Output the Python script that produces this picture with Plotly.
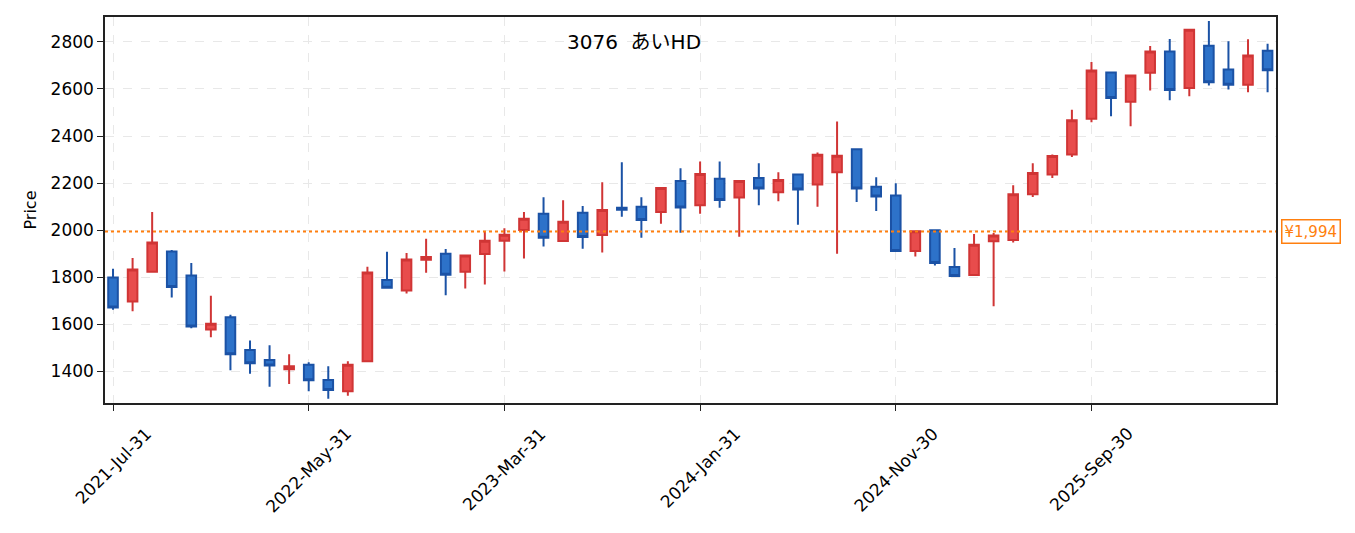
import pandas as pd
import plotly.graph_objects as go

# monthly candles for 3076
open_ = [1799, 1696, 1823, 1909, 1807, 1578, 1630, 1490, 1448, 1409,
         1428, 1363, 1315, 1442, 1788, 1743, 1874, 1900, 1823, 1898,
         1955, 2001, 2070, 1954, 2074, 1979, 2095, 2099, 2077, 2209,
         2106, 2218, 2139, 2222, 2161, 2236, 2194, 2246, 2344, 2184,
         2147, 1911, 1999, 1843, 1809, 1953, 1958, 2152, 2236, 2321,
         2473, 2670, 2546, 2669, 2759, 2604, 2784, 2683, 2618, 2763]
high = [1836, 1881, 2077, 1915, 1860, 1721, 1640, 1531, 1510, 1472,
        1438, 1421, 1442, 1844, 1908, 1903, 1963, 1920, 1893, 1992,
        2008, 2077, 2140, 2127, 2102, 2204, 2288, 2140, 2180, 2263,
        2292, 2292, 2210, 2284, 2246, 2238, 2330, 2462, 2346, 2225,
        2199, 1997, 2000, 1924, 1984, 1988, 2191, 2284, 2321, 2512,
        2715, 2672, 2659, 2783, 2813, 2853, 2889, 2803, 2811, 2792]
low = [1661, 1655, 1820, 1714, 1583, 1545, 1404, 1389, 1334, 1346,
       1315, 1283, 1296, 1440, 1752, 1731, 1819, 1723, 1752, 1769,
       1824, 1879, 1930, 1950, 1921, 1905, 2057, 1968, 2027, 1989,
       2070, 2095, 1972, 2106, 2123, 2023, 2099, 1900, 2120, 2081,
       1908, 1888, 1850, 1803, 1806, 1676, 1947, 2141, 2222, 2311,
       2459, 2484, 2442, 2594, 2552, 2569, 2615, 2598, 2586, 2586]
close = [1671, 1833, 1947, 1758, 1590, 1602, 1472, 1434, 1424, 1421,
         1362, 1320, 1428, 1820, 1755, 1875, 1886, 1810, 1892, 1955,
         1980, 2048, 1967, 2036, 1971, 2086, 2087, 2043, 2179, 2096,
         2239, 2128, 2209, 2177, 2213, 2173, 2320, 2316, 2177, 2143,
         1911, 1995, 1860, 1805, 1938, 1977, 2152, 2243, 2315, 2467,
         2679, 2562, 2657, 2759, 2596, 2852, 2629, 2618, 2742, 2680]

# month-end labels
dates = (pd.date_range(start='2021-07-01', periods=len(close), freq='MS') + pd.offsets.MonthEnd(0)).strftime('%Y-%b-%d').tolist()
tick_labels = dates[::10]

ref_price = 1994
title = '3076  あいHD'
font_name = 'DejaVu Sans, Noto Sans CJK JP'

fig = go.Figure()
fig.add_trace(go.Candlestick(
    x=dates, open=open_, high=high, low=low, close=close,
    increasing=dict(fillcolor='#e84c4c', line=dict(color='#d03535', width=2)),
    decreasing=dict(fillcolor='#2d72c9', line=dict(color='#1b52a5', width=2)),
    whiskerwidth=0, showlegend=False,
))

# reference price line
fig.add_hline(y=ref_price, line=dict(color='#ff7f0e', width=2, dash='dot'))
fig.add_annotation(x=1, xref='paper', xanchor='left', xshift=5, y=ref_price, yref='y', yanchor='middle',
                   text=f'¥{ref_price:,}', showarrow=False,
                   font=dict(color='#ff7f0e', size=15, family=font_name),
                   bgcolor='white', bordercolor='#ff7f0e', borderwidth=1.5, borderpad=2)

fig.add_annotation(x=0.4517, xref='paper', y=0.9356, yref='paper', xanchor='center', yanchor='middle',
                   text=title, showarrow=False,
                   font=dict(size=20, color='black', family=font_name))

# x tick labels centred under the ticks (matplotlib style)
for lab in tick_labels:
    fig.add_annotation(x=lab, xref='x', y=0, yref='paper', xanchor='center', yanchor='top', yshift=-18,
                       text=lab, textangle=-45, showarrow=False,
                       font=dict(size=17, color='black', family=font_name))

axis_style = dict(showline=True, linecolor='#222222', linewidth=1.5, mirror=True,
                  ticks='outside', ticklen=6, tickcolor='#222222',
                  showgrid=True, gridcolor='#e8e8e8', griddash='dash', gridwidth=1,
                  zeroline=False, tickfont=dict(size=17, color='black', family=font_name))

fig.update_layout(
    width=1347, height=525,
    margin=dict(l=97, r=79, t=7, b=130),
    plot_bgcolor='white', paper_bgcolor='white',
    font=dict(family=font_name, color='black'),
    xaxis=dict(type='category', range=[-0.41, 59.43], tickvals=tick_labels, showticklabels=False,
               rangeslider=dict(visible=False), **axis_style),
    yaxis=dict(range=[1265, 2906], dtick=200, title=dict(text='Price', font=dict(size=16), standoff=10),
               **axis_style),
)

fig.write_html('out.html')
